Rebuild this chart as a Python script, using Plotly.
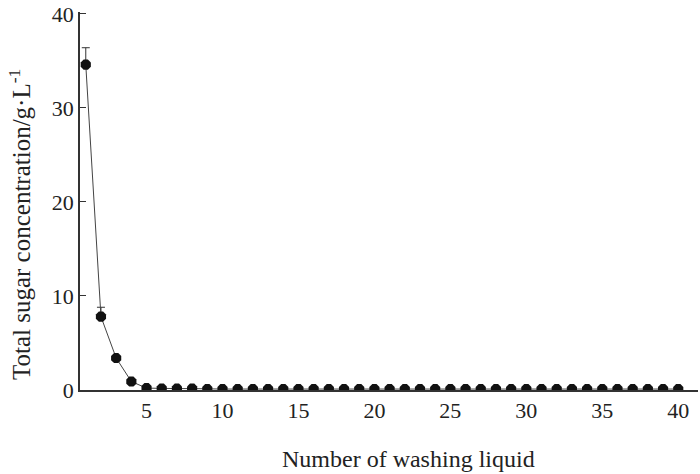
import plotly.graph_objects as go

washes = list(range(1, 41))
sugar = [34.6, 7.8, 3.4, 0.9, 0.2, 0.15, 0.15, 0.15, 0.1, 0.1,
         0.1, 0.1, 0.1, 0.1, 0.1, 0.1, 0.1, 0.1, 0.1, 0.1,
         0.1, 0.1, 0.1, 0.1, 0.1, 0.1, 0.1, 0.1, 0.1, 0.1,
         0.1, 0.1, 0.1, 0.1, 0.1, 0.1, 0.1, 0.1, 0.1, 0.1]
sugar_err = [1.8, 1.0] + [0] * 38

x_ticks = [5, 10, 15, 20, 25, 30, 35, 40]
y_ticks = [0, 10, 20, 30, 40]

font = "Liberation Serif, Times New Roman, serif"

fig = go.Figure()

fig.add_trace(go.Scatter(
    x=washes,
    y=sugar,
    mode="lines+markers",
    line=dict(color="#444444", width=1),
    marker=dict(symbol="octagon", size=11, color="#111111"),
    error_y=dict(
        type="data",
        symmetric=False,
        array=sugar_err,
        arrayminus=[0] * len(sugar_err),
        color="#333333",
        thickness=1,
        width=4
    ),
    showlegend=False
))

fig.update_layout(
    width=700,
    height=474,
    margin=dict(l=80, r=2, t=5, b=84),
    paper_bgcolor="white",
    plot_bgcolor="white",
    font=dict(family=font, size=22, color="#222222"),
    xaxis=dict(
        range=[0.62, 41.3],
        tickvals=x_ticks,
        ticks="",
        showgrid=False,
        zeroline=False,
        showline=True,
        linecolor="#333333",
        linewidth=1.5,
        tickfont=dict(size=22)
    ),
    yaxis=dict(
        range=[0, 40.2],
        tickvals=y_ticks,
        ticks="inside",
        ticklen=6,
        tickcolor="#333333",
        showgrid=False,
        zeroline=False,
        showline=True,
        linecolor="#333333",
        linewidth=1.5,
        tickfont=dict(size=22),
        ticklabeloverflow="allow"
    ),
)

fig.add_annotation(
    text="Number of washing liquid",
    xref="paper", yref="paper",
    x=(409 - 80) / 618, y=-(460 - 390) / 385,
    xanchor="center", yanchor="middle",
    showarrow=False,
    font=dict(size=24)
)
fig.add_annotation(
    text="Total sugar concentration/g·L<sup>-1</sup>",
    xref="paper", yref="paper",
    x=-(80 - 20) / 618, y=(390 - 222) / 385,
    xanchor="center", yanchor="middle",
    textangle=-90,
    showarrow=False,
    font=dict(size=25)
)

fig.write_html("out.html", config={"displayModeBar": False},
               post_script="document.body.style.margin='0';")
